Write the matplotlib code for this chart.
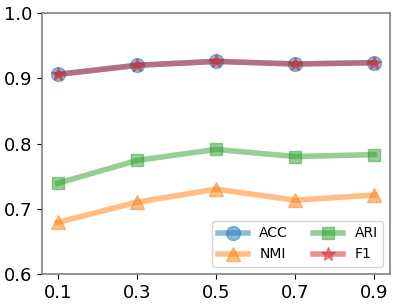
import matplotlib.pyplot as plt

x = [0.1, 0.3, 0.5, 0.7, 0.9]
acc = [0.906, 0.920, 0.926, 0.922, 0.924]
nmi = [0.679, 0.710, 0.730, 0.713, 0.721]
ari = [0.739, 0.774, 0.791, 0.780, 0.783]
f1 = [0.906, 0.920, 0.926, 0.922, 0.924]

fig, ax = plt.subplots(figsize=(3.99, 3.06), dpi=100)

ax.plot(x, acc, marker='o', color='tab:blue', alpha=0.5, lw=4, ms=10, label='ACC')
ax.plot(x, nmi, marker='^', color='tab:orange', alpha=0.5, lw=4, ms=10, label='NMI')
ax.plot(x, ari, marker='s', color='tab:green', alpha=0.5, lw=4, ms=9, label='ARI')
ax.plot(x, f1, marker='*', color='tab:red', alpha=0.5, lw=4, ms=10, label='F1')

ax.set_ylim(0.6, 1.0)
ax.set_xticks(x)
ax.set_yticks([0.6, 0.7, 0.8, 0.9, 1.0])
ax.tick_params(labelsize=13)
for s in ax.spines.values():
    s.set_color('gray')
    s.set_linewidth(1.2)

ax.legend(ncol=2, loc='lower right', fontsize=10, handlelength=2.2, columnspacing=1.8)

fig.subplots_adjust(left=0.105, right=0.978, top=0.957, bottom=0.105)
fig.savefig('out.png')
